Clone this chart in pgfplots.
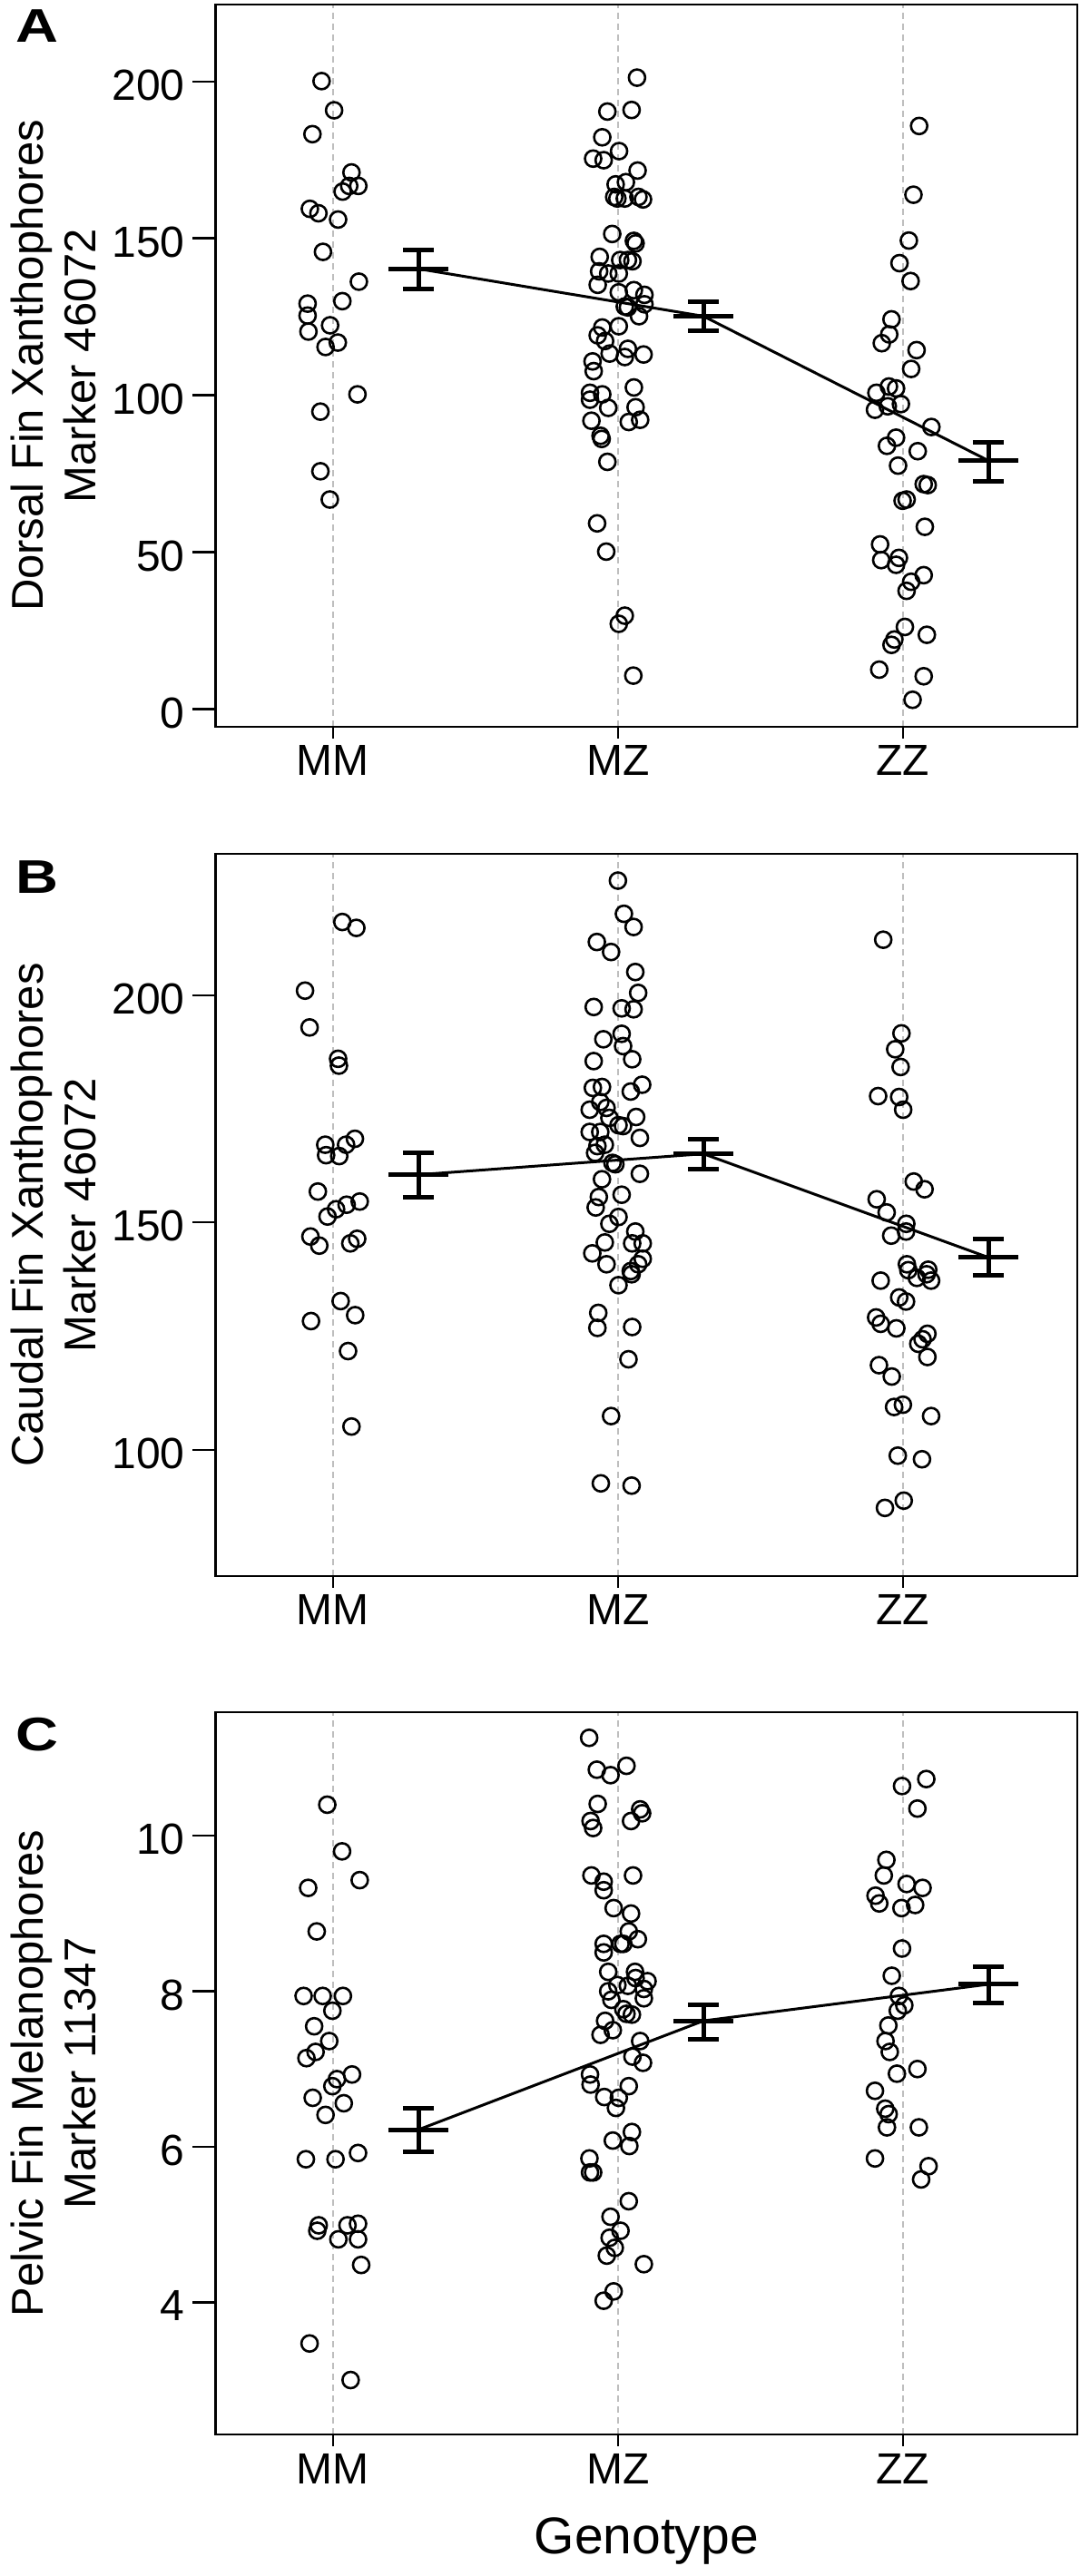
\documentclass[border=0pt]{standalone}
\usepackage{fontspec}
\setmainfont{Liberation Sans}
\usepackage{pgfplots}
\pgfplotsset{compat=1.18}
\definecolor{gridgray}{RGB}{190,190,190}
\pgfplotsset{
  panel/.style={
    scale only axis, width=474.75pt, height=398pt,
    anchor=south west, clip=false,
    xmin=0.588, xmax=3.612,
    xtick={1,2,3}, xticklabels={MM,MZ,ZZ},
    tick pos=left, tick align=inside,
    every tick/.append style={draw=none},
    axis line style={line width=1.2pt, black},
    xmajorgrids,
    major grid style={color=gridgray, line width=1pt, dash pattern=on 3.5pt off 2.5pt},
    tick label style={font=\fontsize{24}{28}\selectfont},
    /pgf/number format/assume math mode=true,
    yticklabel style={anchor=east, inner sep=0pt, xshift=-16.75pt, yshift=-2pt},
    xticklabel style={anchor=base, inner sep=0pt, yshift=-27pt},
    ylabel style={at={(axis description cs:-0.2375,0.5)}, anchor=north, inner sep=0pt, align=center, font=\fontsize{24.5}{29}\selectfont},
    unbounded coords=jump,
  },
  pts/.style={only marks, mark=o, mark size=4.5pt, black, line width=1.3pt},
  bar/.style={black, line width=2.5pt, no marks},
  mline/.style={black, line width=1.5pt, no marks},
  tk/.style={black, line width=1.2pt, no marks},
}
\begin{document}
\begin{tikzpicture}
\path[use as bounding box] (0pt,0pt) rectangle (600pt,1419.5pt);

% ---------------- Panel A ----------------
\begin{axis}[panel, at={(118.75pt,1019pt)},
  ymin=-5.6, ymax=224.5, ytick={0,50,100,150,200},
  ylabel={Dorsal Fin Xanthophores\\Marker 46072}]
\addplot[tk] coordinates {(0.508,0)(0.588,0)(0.55,nan)(0.508,50)(0.588,50)(0.55,nan)(0.508,100)(0.588,100)(0.55,nan)(0.508,150)(0.588,150)(0.55,nan)(0.508,200)(0.588,200)(0.55,nan)
(1,-5.6)(1,-9.36)(1,nan)(2,-5.6)(2,-9.36)(2,nan)(3,-5.6)(3,-9.36)};
\addplot[pts] coordinates {
(0.960,200.1)(1.004,190.8)(0.928,183.2)(1.065,171.0)(1.089,166.7)(1.057,166.7)(1.034,164.9)(0.919,159.4)(0.949,158.0)(1.018,156.0)(0.965,145.7)(1.091,136.2)(0.911,129.2)(0.911,125.4)(0.914,120.3)(1.033,130.0)(0.990,122.3)(0.974,115.4)(1.017,116.8)(1.086,100.3)(0.956,94.8)(0.956,75.8)(0.989,66.8)
};
\addplot[pts] coordinates {
(2.067,201.2)(1.963,190.4)(2.048,190.9)(1.945,182.2)(2.004,177.8)(1.913,175.4)(1.950,174.9)(2.069,171.6)(2.028,167.9)(1.992,167.2)
(1.987,163.2)(1.998,162.7)(2.024,162.7)(2.072,163.2)(2.088,162.4)(1.980,151.4)(2.056,149.2)(2.062,148.4)
(1.936,144.1)(2.008,143.1)(2.035,143.1)(2.051,142.7)(1.934,139.5)(1.966,138.8)(2.003,138.8)(1.929,135.2)
(2.003,132.8)(2.056,133.5)(2.093,132.0)(2.024,128.3)(2.035,128.0)(2.093,129.0)(2.074,125.2)
(2.003,122.0)(1.945,121.6)(1.929,119.1)(1.955,117.3)(1.971,113.3)(2.035,114.8)(2.024,112.2)(2.090,113.0)
(1.911,110.8)(1.915,107.7)(2.056,102.5)(1.902,100.8)(1.945,100.3)(1.902,98.6)(1.966,96.0)(2.062,96.2)
(1.907,91.9)(2.038,91.5)(2.078,92.2)(1.939,87.1)(1.943,86.1)(1.963,78.8)(1.927,59.2)(1.959,50.2)
(2.024,29.8)(2.003,27.2)(2.054,10.7)
};
\addplot[pts] coordinates {
(3.057,185.8)(3.037,163.9)(3.021,149.3)(2.988,142.1)(3.027,136.4)(2.960,124.2)(2.952,119.4)(2.926,116.6)(3.048,114.4)(3.029,108.4)
(2.907,100.8)(2.951,102.8)(2.976,102.2)(2.902,95.4)(2.947,96.5)(2.993,97.2)(3.100,89.9)(2.976,86.5)(2.944,83.9)(3.052,82.2)
(2.983,77.6)(3.073,71.7)(3.087,71.4)(2.999,66.4)(3.013,66.8)(3.077,58.1)(2.920,52.5)(2.986,48.2)(2.924,47.5)(2.976,46.0)
(3.073,42.7)(3.029,40.6)(3.013,37.7)(3.007,26.2)(3.084,23.7)(2.970,22.2)(2.960,20.5)(2.917,12.6)(3.073,10.5)(3.034,3.0)
};
\addplot[mline] coordinates {(1.3,140.3)(2.3,125.2)(3.3,79.2)};
\addplot[bar] coordinates {
(1.196,140.3)(1.404,140.3)(1.3,nan)(1.3,133.8)(1.3,146.4)(1.3,nan)(1.245,133.8)(1.355,133.8)(1.3,nan)(1.245,146.4)(1.355,146.4)(1.3,nan)
(2.196,125.2)(2.404,125.2)(2.3,nan)(2.3,120.6)(2.3,129.7)(2.3,nan)(2.245,120.6)(2.355,120.6)(2.3,nan)(2.245,129.7)(2.355,129.7)(2.3,nan)
(3.196,79.2)(3.404,79.2)(3.3,nan)(3.3,72.5)(3.3,85.0)(3.3,nan)(3.245,72.5)(3.355,72.5)(3.3,nan)(3.245,85.0)(3.355,85.0)
};
\end{axis}

% ---------------- Panel B ----------------
\begin{axis}[panel, at={(118.75pt,551pt)},
  ymin=72.2, ymax=231.1, ytick={100,150,200},
  ylabel={Caudal Fin Xanthophores\\Marker 46072}]
\addplot[tk] coordinates {(0.508,100)(0.588,100)(0.55,nan)(0.508,150)(0.588,150)(0.55,nan)(0.508,200)(0.588,200)(0.55,nan)
(1,72.2)(1,69.6)(1,nan)(2,72.2)(2,69.6)(2,nan)(3,72.2)(3,69.6)};
\addplot[pts] coordinates {
(1.033,216.1)(1.082,214.8)(0.902,201.0)(0.918,192.9)(1.018,186.0)(1.021,184.5)(0.973,167.1)(0.976,164.8)(1.022,164.6)(1.046,167.1)(1.077,168.4)
(0.947,156.8)(1.094,154.6)(1.048,153.9)(1.011,152.9)(0.981,151.3)(0.921,146.9)(0.952,144.9)(1.085,146.4)(1.061,145.4)
(1.027,132.7)(1.078,129.6)(0.923,128.3)(1.053,121.7)(1.065,105.1)
};
\addplot[pts] coordinates {
(2.000,225.2)(2.021,217.9)(2.055,215.0)(1.926,211.7)(1.976,209.5)(2.061,205.1)(2.071,200.5)(1.915,197.4)(2.013,197.1)(2.055,196.9)
(1.949,190.3)(2.013,191.5)(2.018,188.8)(2.050,185.9)(1.915,185.5)(1.912,179.6)(1.944,179.8)(2.085,180.3)(2.045,178.8)
(1.901,174.8)(1.938,176.5)(1.960,175.2)(1.970,173.0)(2.064,173.2)(2.002,171.4)(2.018,171.2)(1.901,169.9)(1.938,169.9)(2.077,168.6)
(1.928,166.8)(1.954,167.1)(1.920,165.3)(1.981,163.1)(1.991,162.8)(2.077,160.7)(1.944,159.5)(2.013,156.1)(1.933,155.6)(1.922,153.3)
(2.002,151.2)(1.970,149.7)(2.061,148.0)(1.954,145.6)(2.087,145.4)(2.050,145.4)(1.910,143.2)(1.960,140.8)(2.087,142.0)(2.071,140.8)
(2.045,139.3)(2.048,138.6)(2.002,136.2)(1.931,130.1)(1.928,126.8)(2.050,127.0)(2.037,119.9)(1.976,107.4)(1.940,92.6)(2.048,92.1)
};
\addplot[pts] coordinates {
(2.931,212.2)(2.995,191.6)(2.973,188.1)(2.992,184.2)(2.913,177.8)(2.987,177.6)(3.001,174.8)(3.038,159.0)(3.076,157.3)(2.908,155.1)
(2.943,152.2)(3.012,149.7)(3.011,148.0)(2.959,147.1)(3.014,140.8)(3.019,139.5)(3.049,137.8)(3.089,139.6)(3.083,138.6)(3.099,137.2)
(2.922,137.2)(2.987,133.5)(3.011,132.6)(2.906,129.1)(2.922,127.7)(2.977,126.7)(3.086,125.5)(3.069,124.3)(3.054,123.3)(3.086,120.4)
(2.916,118.6)(2.961,116.1)(2.969,109.4)(3.000,109.9)(3.099,107.4)(2.982,98.7)(3.067,97.9)(3.003,88.8)(2.937,87.2)
};
\addplot[mline] coordinates {(1.3,160.5)(2.3,165.1)(3.3,142.3)};
\addplot[bar] coordinates {
(1.196,160.5)(1.404,160.5)(1.3,nan)(1.3,155.6)(1.3,165.3)(1.3,nan)(1.245,155.6)(1.355,155.6)(1.3,nan)(1.245,165.3)(1.355,165.3)(1.3,nan)
(2.196,165.1)(2.404,165.1)(2.3,nan)(2.3,161.7)(2.3,168.4)(2.3,nan)(2.245,161.7)(2.355,161.7)(2.3,nan)(2.245,168.4)(2.355,168.4)(2.3,nan)
(3.196,142.3)(3.404,142.3)(3.3,nan)(3.3,138.3)(3.3,146.4)(3.3,nan)(3.245,138.3)(3.355,138.3)(3.3,nan)(3.245,146.4)(3.355,146.4)
};
\end{axis}

% ---------------- Panel C ----------------
\begin{axis}[panel, at={(118.75pt,78pt)},
  ymin=2.30, ymax=11.59, ytick={4,6,8,10},
  ylabel={Pelvic Fin Melanophores\\Marker 11347},
  xlabel={Genotype},
  xlabel style={at={(axis description cs:0.5,0)}, anchor=base, inner sep=0pt, yshift=-65.5pt, font=\fontsize{28.5}{34}\selectfont}]
\addplot[tk] coordinates {(0.508,4)(0.588,4)(0.55,nan)(0.508,6)(0.588,6)(0.55,nan)(0.508,8)(0.588,8)(0.55,nan)(0.508,10)(0.588,10)(0.55,nan)
(1,2.30)(1,2.148)(1,nan)(2,2.30)(2,2.148)(2,nan)(3,2.30)(3,2.148)};
\addplot[pts] coordinates {
(0.980,10.40)(1.032,9.80)(1.094,9.43)(0.913,9.33)(0.943,8.77)(0.897,7.94)(0.964,7.94)(1.035,7.94)(0.998,7.75)(0.934,7.55)
(0.987,7.36)(0.939,7.22)(0.907,7.14)(1.067,6.93)(1.014,6.87)(0.998,6.78)(0.929,6.63)(1.038,6.56)(0.974,6.41)(1.088,5.92)
(0.905,5.84)(1.009,5.84)(0.950,4.99)(0.945,4.92)(1.051,4.99)(1.088,5.01)(1.019,4.81)(1.088,4.81)(1.099,4.48)(0.918,3.47)(1.062,3.00)
};
\addplot[pts] coordinates {
(1.899,11.26)(1.926,10.85)(1.974,10.78)(2.030,10.90)(1.929,10.41)(1.904,10.19)(1.913,10.10)(2.078,10.34)(2.085,10.29)(2.046,10.19)
(1.907,9.49)(1.950,9.41)(1.950,9.30)(2.053,9.49)(1.985,9.07)(2.046,9.00)(2.038,8.77)(2.070,8.67)(1.950,8.61)(1.950,8.50)
(2.009,8.61)(2.019,8.61)(1.966,8.25)(2.060,8.25)(2.062,8.17)(2.104,8.13)(1.966,8.00)(1.998,8.08)(2.035,8.07)(2.091,8.03)
(2.091,7.91)(1.977,7.89)(2.019,7.77)(2.030,7.71)(2.049,7.70)(1.955,7.62)(1.982,7.50)(1.939,7.44)(2.078,7.36)(2.051,7.16)
(2.088,7.08)(1.902,6.93)(1.904,6.80)(1.952,6.64)(2.003,6.63)(1.993,6.50)(2.038,6.78)(1.982,6.08)(2.049,6.19)(2.040,6.01)
(1.900,5.85)(1.902,5.67)(1.913,5.67)(2.038,5.30)(1.974,5.10)(2.009,4.92)(1.971,4.83)(1.989,4.70)(1.961,4.60)(2.091,4.49)
(1.985,4.14)(1.950,4.02)
};
\addplot[pts] coordinates {
(2.997,10.64)(3.082,10.73)(3.051,10.35)(2.942,9.69)(2.933,9.49)(3.013,9.38)(3.069,9.33)(2.904,9.23)(2.917,9.13)(2.995,9.07)
(3.043,9.11)(2.997,8.55)(2.961,8.20)(2.986,7.94)(3.005,7.82)(2.982,7.75)(2.949,7.56)(2.939,7.36)(2.954,7.22)(2.979,6.94)
(3.051,7.00)(2.902,6.72)(2.938,6.49)(2.950,6.42)(2.944,6.25)(3.056,6.25)(2.902,5.85)(3.090,5.75)(3.064,5.58)
};
\addplot[mline] coordinates {(1.3,6.22)(2.3,7.62)(3.3,8.09)};
\addplot[bar] coordinates {
(1.196,6.22)(1.404,6.22)(1.3,nan)(1.3,5.93)(1.3,6.50)(1.3,nan)(1.245,5.93)(1.355,5.93)(1.3,nan)(1.245,6.50)(1.355,6.50)(1.3,nan)
(2.196,7.62)(2.404,7.62)(2.3,nan)(2.3,7.38)(2.3,7.83)(2.3,nan)(2.245,7.38)(2.355,7.38)(2.3,nan)(2.245,7.83)(2.355,7.83)(2.3,nan)
(3.196,8.09)(3.404,8.09)(3.3,nan)(3.3,7.85)(3.3,8.32)(3.3,nan)(3.245,7.85)(3.355,7.85)(3.3,nan)(3.245,8.32)(3.355,8.32)
};
\end{axis}

% panel letters
\node[anchor=north west, inner sep=0pt, font=\bfseries\fontsize{26}{30}\selectfont, xscale=1.25] at (8.35pt,1414.5pt) {A};
\node[anchor=north west, inner sep=0pt, font=\bfseries\fontsize{26}{30}\selectfont, xscale=1.25] at (8.35pt,945.5pt) {B};
\node[anchor=north west, inner sep=0pt, font=\bfseries\fontsize{26}{30}\selectfont, xscale=1.25] at (8.35pt,473.3pt) {C};
\end{tikzpicture}
\end{document}
